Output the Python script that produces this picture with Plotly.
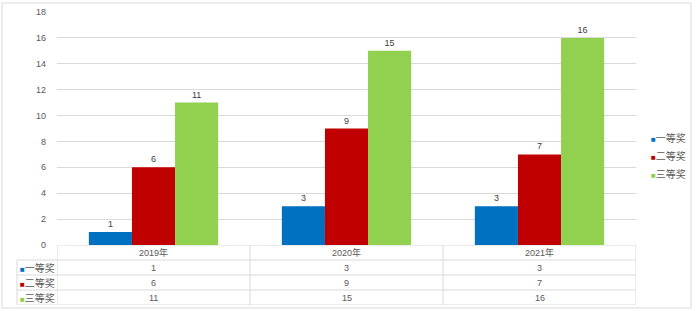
import plotly.graph_objects as go

categories = ["2019年", "2020年", "2021年"]
series_names = ["一等奖", "二等奖", "三等奖"]
first_prize = [1, 3, 3]
second_prize = [6, 9, 7]
third_prize = [11, 15, 16]
colors = ["#0070C0", "#C00000", "#92D050"]
y_ticks = [0, 2, 4, 6, 8, 10, 12, 14, 16, 18]

series_values = [first_prize, second_prize, third_prize]

W, H = 698, 311
def px_x(p):
    return p / W
def px_y(p):
    return 1 - p / H

FONT = "Liberation Sans, Noto Sans CJK SC, sans-serif"
TXT = "#595959"
GRID = "#d9d9d9"

fig = go.Figure()
idx = list(range(len(categories)))
for name, vals, c in zip(series_names, series_values, colors):
    fig.add_trace(go.Bar(
        x=idx, y=vals, name=name, marker=dict(color=c, line=dict(width=0)),
        text=[str(v) for v in vals], textposition="outside",
        textfont=dict(size=9, color="#404040", family=FONT),
        cliponaxis=False,
    ))

x_dom = [px_x(57), px_x(636)]
fig.update_layout(
    width=W, height=H,
    margin=dict(l=0, r=0, t=0, b=0, autoexpand=False),
    paper_bgcolor="white", plot_bgcolor="white",
    barmode="group", bargap=0.33, bargroupgap=0,
    font=dict(family=FONT, color=TXT, size=9),
    showlegend=False,
    xaxis=dict(domain=x_dom, range=[-0.5, len(categories) - 0.5], showticklabels=False,
               showgrid=False, zeroline=False, showline=False, fixedrange=True),
    yaxis=dict(domain=[px_y(245), px_y(12)], range=[0, 18], tickvals=y_ticks,
               showgrid=True, gridcolor=GRID, gridwidth=1, zeroline=False,
               showline=False, ticks="", ticklen=0, tickfont=dict(size=9, color=TXT),
               ticklabelstandoff=10, automargin=False),
    xaxis2=dict(domain=x_dom, range=[-0.5, len(categories) - 0.5], anchor="y2",
                visible=False, fixedrange=True),
    yaxis2=dict(domain=[px_y(305), px_y(245)], range=[3.5, -0.5], anchor="x2",
                visible=False),
)

shapes = []
annotations = []
line = dict(color=GRID, width=1)
# chart border
shapes.append(dict(type="rect", xref="paper", yref="paper", x0=px_x(2), x1=px_x(691),
                   y0=px_y(308), y1=px_y(3), line=dict(color="#d9d9d9", width=1)))
# table horizontal lines
n_rows = len(series_names)
for r in range(n_rows + 2):
    yb = r - 0.5
    shapes.append(dict(type="line", xref="x2", yref="y2", x0=-0.5, x1=len(categories) - 0.5,
                       y0=yb, y1=yb, line=line))
    if r >= 1:
        shapes.append(dict(type="line", xref="paper", yref="y2", x0=px_x(17), x1=x_dom[0],
                           y0=yb, y1=yb, line=line))
# vertical lines
for k in range(len(categories) + 1):
    xb = k - 0.5
    shapes.append(dict(type="line", xref="x2", yref="y2", x0=xb, x1=xb,
                       y0=-0.5, y1=n_rows + 0.5, line=line))
shapes.append(dict(type="line", xref="paper", yref="y2", x0=px_x(17), x1=px_x(17),
                   y0=0.5, y1=n_rows + 0.5, line=line))

# header labels
for i, cat in enumerate(categories):
    annotations.append(dict(x=i, y=0, xref="x2", yref="y2", text=cat, showarrow=False,
                            font=dict(size=9, color=TXT, family=FONT)))
# row labels and values
for r, (name, vals, c) in enumerate(zip(series_names, series_values, colors), start=1):
    annotations.append(dict(x=px_x(18), y=r, xref="paper", yref="y2", xanchor="left",
                            text=f'<span style="color:{c};font-size:8px">■</span>{name}',
                            showarrow=False,
                            font=dict(size=10, color=TXT, family=FONT)))
    for i, v in enumerate(vals):
        annotations.append(dict(x=i, y=r, xref="x2", yref="y2", text=str(v), showarrow=False,
                                font=dict(size=9, color=TXT, family=FONT)))

# right-hand legend
for r, (name, c) in enumerate(zip(series_names, colors)):
    annotations.append(dict(x=px_x(649), y=px_y(138 + 18 * r), xref="paper", yref="paper",
                            xanchor="left", yanchor="middle",
                            text=f'<span style="color:{c};font-size:8px">■</span>{name}',
                            showarrow=False, font=dict(size=10, color=TXT, family=FONT)))

fig.update_layout(shapes=shapes, annotations=annotations)
fig.write_html("out.html")
